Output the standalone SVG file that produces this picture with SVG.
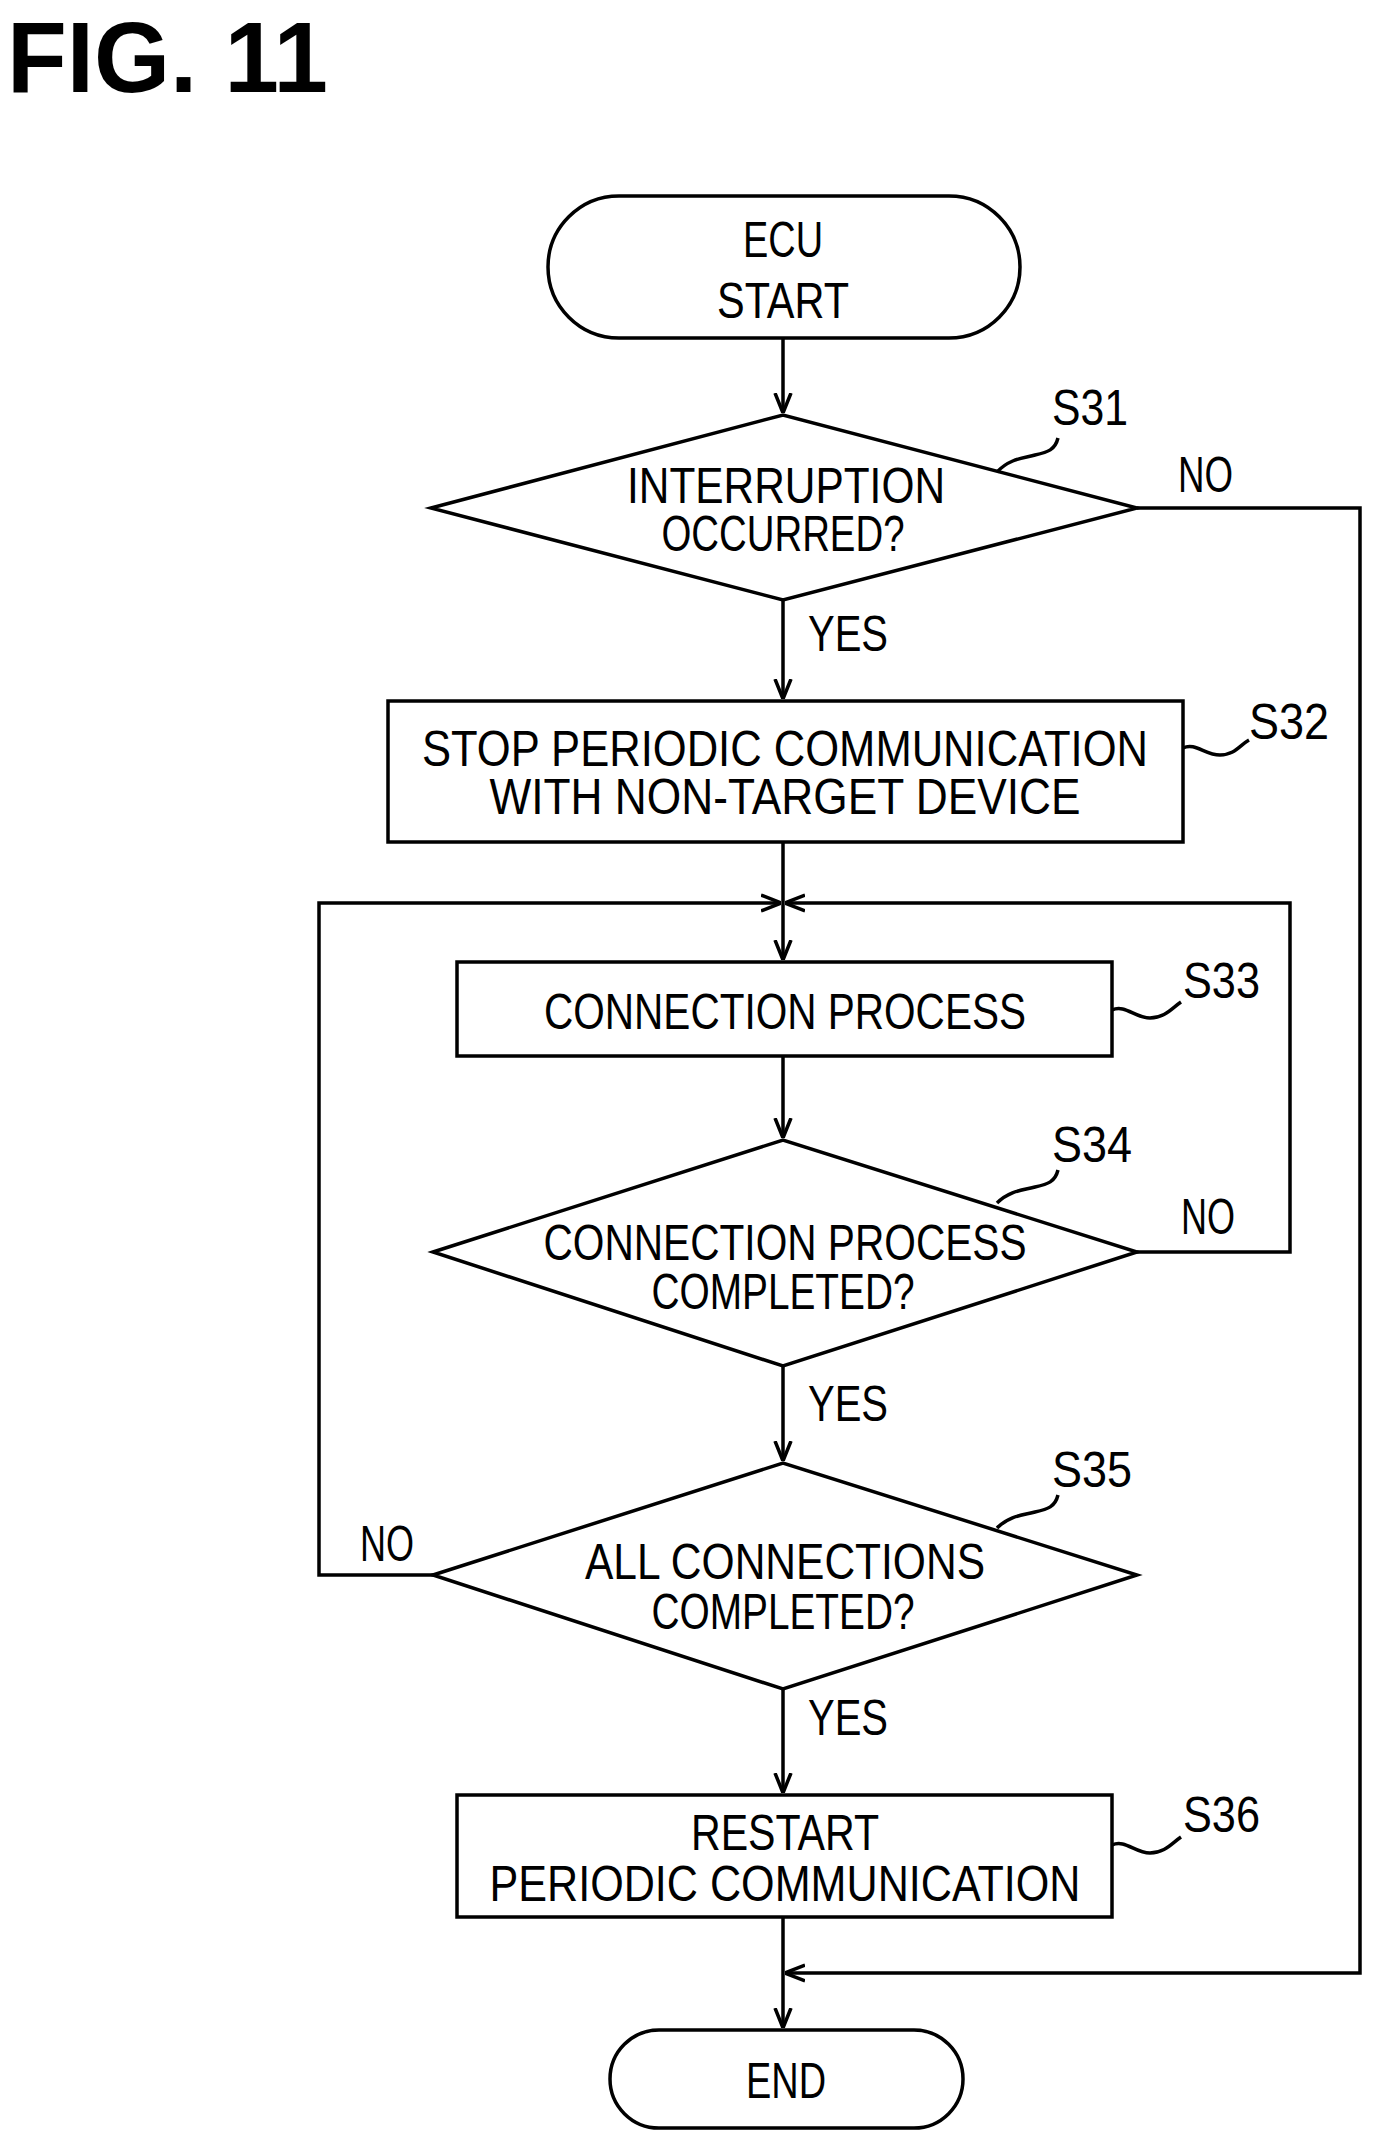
<svg xmlns="http://www.w3.org/2000/svg" width="1388" height="2156" viewBox="0 0 1388 2156">
<style>
.s{fill:none;stroke:#000;stroke-width:3.5}
.t{font-family:"Liberation Sans",sans-serif;font-size:50px;fill:#000;text-anchor:middle;dominant-baseline:central}
.l{font-family:"Liberation Sans",sans-serif;font-size:50px;fill:#000;dominant-baseline:central}
</style>
<defs>
<marker id="a" viewBox="0 0 20 20" refX="20" refY="10" markerWidth="20" markerHeight="20" markerUnits="userSpaceOnUse" orient="auto">
<path d="M0,2 L20,10 L0,18" fill="none" stroke="#000" stroke-width="3.5"/>
</marker>
</defs>
<rect width="1388" height="2156" fill="#fff"/>
<text x="7" y="92" font-family="Liberation Sans,sans-serif" font-weight="bold" font-size="100" textLength="321" lengthAdjust="spacingAndGlyphs">FIG. 11</text>

<g id="start">
<rect class="s" x="548" y="196" width="472" height="142" rx="71"/>
<text class="t" x="783" y="240" textLength="80" lengthAdjust="spacingAndGlyphs">ECU</text>
<text class="t" x="783" y="301" textLength="132" lengthAdjust="spacingAndGlyphs">START</text>
</g>
<g id="s31">
<polygon class="s" points="431,508 783,415 1137,508 783,600"/>
<text class="t" x="786" y="486" textLength="318" lengthAdjust="spacingAndGlyphs">INTERRUPTION</text>
<text class="t" x="783" y="534" textLength="243" lengthAdjust="spacingAndGlyphs">OCCURRED?</text>
<text class="l" x="1052" y="408" textLength="76" lengthAdjust="spacingAndGlyphs">S31</text>
<path class="s" d="M997,472 C1010,458 1025,458 1035,455 C1048,452 1055,450 1058,438" stroke-width="2.5"/>
</g>
<g id="s32">
<rect class="s" x="388" y="701" width="795" height="141"/>
<text class="t" x="785" y="749" textLength="726" lengthAdjust="spacingAndGlyphs">STOP PERIODIC COMMUNICATION</text>
<text class="t" x="785" y="797" textLength="591" lengthAdjust="spacingAndGlyphs">WITH NON-TARGET DEVICE</text>
<text class="l" x="1249" y="722" textLength="80" lengthAdjust="spacingAndGlyphs">S32</text>
<path class="s" d="M1183,748 C1195,742 1205,755 1220,755 C1235,755 1240,745 1249,740" stroke-width="2.5"/>
</g>
<g id="s33">
<rect class="s" x="457" y="962" width="655" height="94"/>
<text class="t" x="785" y="1012" textLength="482" lengthAdjust="spacingAndGlyphs">CONNECTION PROCESS</text>
<text class="l" x="1183" y="981" textLength="77" lengthAdjust="spacingAndGlyphs">S33</text>
<path class="s" d="M1112,1010 C1125,1004 1135,1018 1150,1018 C1165,1018 1172,1008 1181,1002" stroke-width="2.5"/>
</g>
<g id="s34">
<polygon class="s" points="433,1252 783,1140 1137,1252 783,1366"/>
<text class="t" x="785" y="1243" textLength="483" lengthAdjust="spacingAndGlyphs">CONNECTION PROCESS</text>
<text class="t" x="783" y="1292" textLength="263" lengthAdjust="spacingAndGlyphs">COMPLETED?</text>
<text class="l" x="1052" y="1145" textLength="80" lengthAdjust="spacingAndGlyphs">S34</text>
<path class="s" d="M997,1203 C1010,1190 1025,1190 1035,1187 C1048,1184 1055,1182 1058,1170" stroke-width="2.5"/>
</g>
<g id="s35">
<polygon class="s" points="433,1575 783,1463 1137,1575 783,1689"/>
<text class="t" x="785" y="1562" textLength="400" lengthAdjust="spacingAndGlyphs">ALL CONNECTIONS</text>
<text class="t" x="783" y="1612" textLength="263" lengthAdjust="spacingAndGlyphs">COMPLETED?</text>
<text class="l" x="1052" y="1470" textLength="80" lengthAdjust="spacingAndGlyphs">S35</text>
<path class="s" d="M997,1528 C1010,1515 1025,1515 1035,1512 C1048,1509 1055,1507 1058,1495" stroke-width="2.5"/>
</g>
<g id="s36">
<rect class="s" x="457" y="1795" width="655" height="122"/>
<text class="t" x="785" y="1833" textLength="188" lengthAdjust="spacingAndGlyphs">RESTART</text>
<text class="t" x="785" y="1884" textLength="591" lengthAdjust="spacingAndGlyphs">PERIODIC COMMUNICATION</text>
<text class="l" x="1183" y="1815" textLength="77" lengthAdjust="spacingAndGlyphs">S36</text>
<path class="s" d="M1112,1845 C1125,1839 1135,1853 1150,1853 C1165,1853 1172,1843 1181,1837" stroke-width="2.5"/>
</g>
<g id="end">
<rect class="s" x="610" y="2030" width="353" height="98" rx="49"/>
<text class="t" x="786" y="2081" textLength="80" lengthAdjust="spacingAndGlyphs">END</text>
</g>

<g id="connectors">
<line class="s" x1="783" y1="338" x2="783" y2="413" marker-end="url(#a)"/>
<line class="s" x1="783" y1="600" x2="783" y2="699" marker-end="url(#a)"/>
<line class="s" x1="783" y1="842" x2="783" y2="960" marker-end="url(#a)"/>
<line class="s" x1="783" y1="1056" x2="783" y2="1138" marker-end="url(#a)"/>
<line class="s" x1="783" y1="1366" x2="783" y2="1461" marker-end="url(#a)"/>
<line class="s" x1="783" y1="1689" x2="783" y2="1793" marker-end="url(#a)"/>
<line class="s" x1="783" y1="1917" x2="783" y2="2028" marker-end="url(#a)"/>
<polyline class="s" points="1137,508 1360,508 1360,1973 785,1973" marker-end="url(#a)"/>
<polyline class="s" points="1137,1252 1290,1252 1290,903 785,903" marker-end="url(#a)"/>
<polyline class="s" points="433,1575 319,1575 319,903 781,903" marker-end="url(#a)"/>
<text class="l" x="1178" y="475" textLength="55" lengthAdjust="spacingAndGlyphs">NO</text>
<text class="l" x="808" y="634" textLength="80" lengthAdjust="spacingAndGlyphs">YES</text>
<text class="l" x="1181" y="1217" textLength="54" lengthAdjust="spacingAndGlyphs">NO</text>
<text class="l" x="808" y="1404" textLength="80" lengthAdjust="spacingAndGlyphs">YES</text>
<text class="l" x="360" y="1544" textLength="54" lengthAdjust="spacingAndGlyphs">NO</text>
<text class="l" x="808" y="1718" textLength="80" lengthAdjust="spacingAndGlyphs">YES</text>
</g>
</svg>
